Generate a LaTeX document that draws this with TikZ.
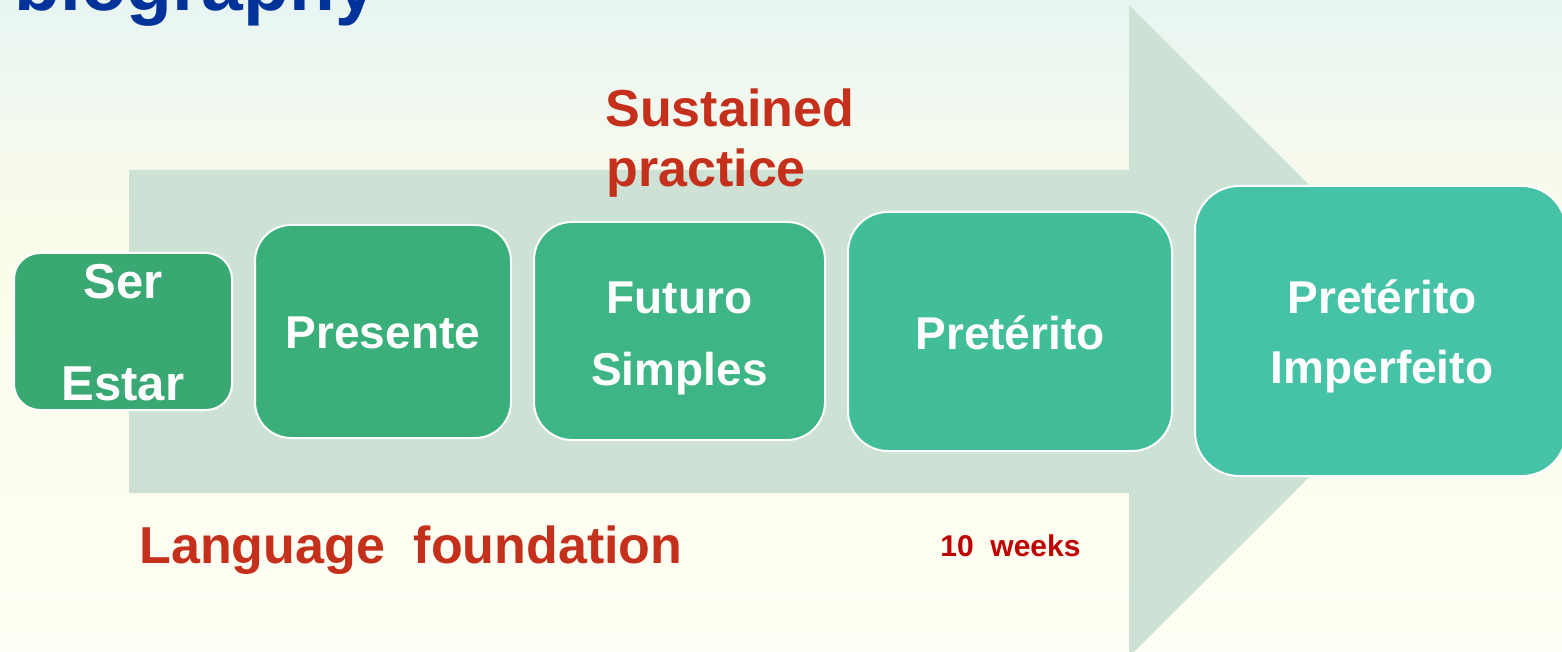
\documentclass[tikz,border=0pt]{standalone}
\usepackage{fontspec}
\setmainfont{Liberation Sans}
\definecolor{bgA}{HTML}{E8F5F2}
\definecolor{bgB}{HTML}{FBFCEB}
\definecolor{bgC}{HTML}{FFFFF5}
\definecolor{arrowc}{HTML}{CDE1D5}
\definecolor{cA}{HTML}{3AA873}
\definecolor{cB}{HTML}{3BAF7A}
\definecolor{cC}{HTML}{3DB585}
\definecolor{cD}{HTML}{41BD97}
\definecolor{cE}{HTML}{46C3A6}
\definecolor{redt}{HTML}{C5301C}
\definecolor{redw}{HTML}{C00000}
\definecolor{bluet}{HTML}{003399}
\tikzset{
  box/.style={draw=white, line width=1pt, inner sep=0pt},
  boxtxt/.style={text=white, font=\bfseries\fontsize{23}{27}\selectfont, inner sep=0pt, anchor=base},
  redtxt/.style={text=redt, font=\bfseries\fontsize{26}{30}\selectfont, inner sep=0pt, anchor=base west},
}
\begin{document}
\begin{tikzpicture}[x=0.5pt,y=-0.5pt]
\useasboundingbox (0,0) rectangle (1562,652);
% background
\shade[top color=bgA, bottom color=bgB] (0,0) rectangle (1562,230);
\shade[top color=bgB, bottom color=bgC] (0,230) rectangle (1562,652);
% title remnant
\node[text=bluet, font=\bfseries\fontsize{37.5}{40}\selectfont, inner sep=0pt, anchor=base west] (title) at (14,11) {biography};
% big arrow
\fill[arrowc] (129,170) -- (1129,170) -- (1129,5) -- (1455,331) -- (1129,657) -- (1129,493) -- (129,493) -- cycle;
% boxes
\node[box, fill=cA, minimum width=109pt, minimum height=78.5pt, rounded corners=13pt] (b1) at (123,331.5) {};
\node[box, fill=cB, minimum width=128pt, minimum height=106.5pt, rounded corners=18pt] (b2) at (383,331.5) {};
\node[box, fill=cC, minimum width=145.5pt, minimum height=109pt, rounded corners=19pt] (b3) at (679.5,331) {};
\node[box, fill=cD, minimum width=162pt, minimum height=119.5pt, rounded corners=20pt] (b4) at (1010,331.5) {};
\node[box, fill=cE, minimum width=185.5pt, minimum height=145pt, rounded corners=22pt] (b5) at (1380.5,331) {};
% box texts
\node[boxtxt, font=\bfseries\fontsize{24.5}{28}\selectfont] (t1a) at (123,298) {Ser};
\node[boxtxt, font=\bfseries\fontsize{24.5}{28}\selectfont] (t1b) at (123,400) {Estar};
\node[boxtxt] (t2) at (383,348) {Presente};
\node[boxtxt] (t3a) at (679.5,313) {Futuro};
\node[boxtxt] (t3b) at (679.5,385) {Simples};
\node[boxtxt] (t4) at (1010,349) {Pretérito};
\node[boxtxt] (t5a) at (1382,313) {Pretérito};
\node[boxtxt] (t5b) at (1382,383) {Imperfeito};
% labels
\node[redtxt] (sus1) at (605,127) {Sustained};
\node[redtxt] (sus2) at (606,187) {practice};
\node[redtxt] (lang) at (139,563) {Language\ \ foundation};
\node[text=redw, font=\bfseries\fontsize{15}{18}\selectfont, inner sep=0pt, anchor=base west] (weeks) at (940,556) {10\ \ weeks};
\end{tikzpicture}
\end{document}
